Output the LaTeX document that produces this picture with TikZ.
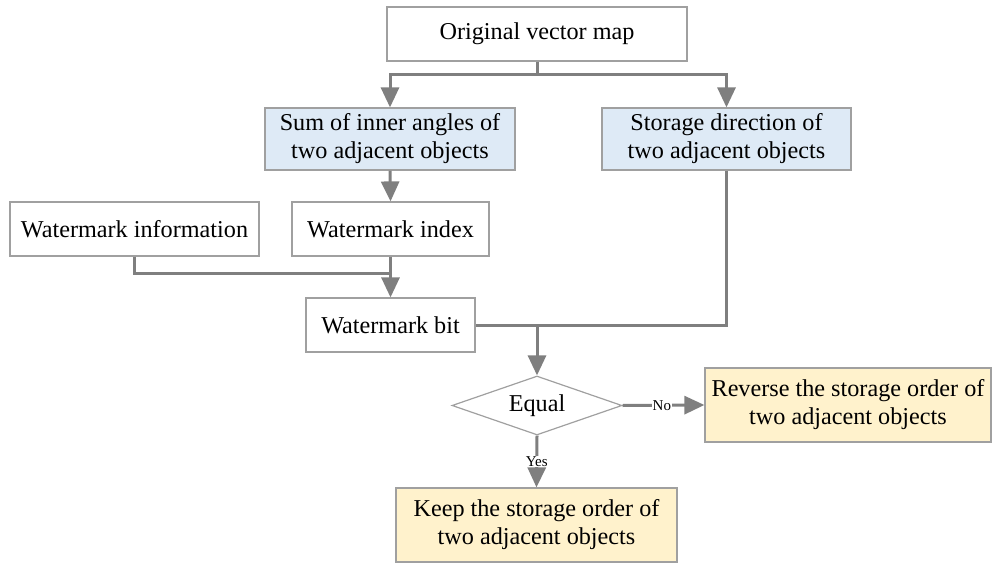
\documentclass[tikz,border=0pt]{standalone}
\usepackage{fontspec}
\setmainfont{Liberation Serif}
\usetikzlibrary{arrows.meta,shapes.geometric}
\definecolor{lineg}{HTML}{7F7F7F}
\definecolor{boxg}{HTML}{A0A0A0}
\definecolor{bluef}{HTML}{DEEAF6}
\definecolor{creamf}{HTML}{FFF2CC}
\begin{document}
\begin{tikzpicture}[x=1pt,y=-1pt,
  box/.style={draw=boxg,line width=1.2pt,inner sep=0pt,align=center,font=\fontsize{24.2}{28}\selectfont},
  conn/.style={draw=lineg,line width=3pt},
  arr/.style={conn,-{Triangle[length=20pt,width=18pt]}},
  lab/.style={font=\fontsize{15}{17}\selectfont,fill=white,inner sep=0.5pt}]
\useasboundingbox (0,0) rectangle (992,564);
\node[box,minimum width=300pt,minimum height=54pt] (orig) at (537,34) {Original vector map};
\node[box,fill=bluef,minimum width=250pt,minimum height=62pt] (sum) at (390,139) {Sum of inner angles of\\two adjacent objects};
\node[box,fill=bluef,minimum width=249pt,minimum height=62pt] (stor) at (726.5,139) {Storage direction of\\two adjacent objects};
\node[box,minimum width=249pt,minimum height=54pt] (winfo) at (134.5,229) {Watermark information};
\node[box,minimum width=197pt,minimum height=54pt] (widx) at (390.5,229) {Watermark index};
\node[box,minimum width=169pt,minimum height=54pt] (wbit) at (390.5,325) {Watermark bit};
\node[draw=boxg,line width=1.2pt,diamond,aspect=2.9,minimum width=170pt,minimum height=59pt,inner sep=0pt,font=\fontsize{24.2}{28}\selectfont] (eq) at (537,405.5) {Equal};
\node[box,fill=creamf,minimum width=286pt,minimum height=74pt] (rev) at (848,405) {Reverse the storage order of\\two adjacent objects};
\node[box,fill=creamf,minimum width=281pt,minimum height=74pt] (keep) at (536.5,525) {Keep the storage order of\\two adjacent objects};
\coordinate (j1) at (537,75);
\coordinate (j2) at (390,273);
\coordinate (j3) at (537,325);
\draw[conn] (orig.south) -- (j1);
\draw[arr] (j1) -| (sum.north);
\draw[arr] (j1) -| (stor.north);
\draw[arr] (sum.south) -- (widx.north);
\draw[conn] (winfo.south) |- (j2);
\draw[arr] (widx.south) -- (wbit.north);
\draw[conn] (wbit.east) -- (j3);
\draw[conn] (stor.south) |- (j3);
\draw[arr] (j3) -- (eq.north);
\draw[arr] (eq.east) -- node[lab,pos=0.48]{No} (rev.west);
\draw[arr] (eq.south) -- node[lab,pos=0.5]{Yes} (keep.north);
\end{tikzpicture}
\end{document}
